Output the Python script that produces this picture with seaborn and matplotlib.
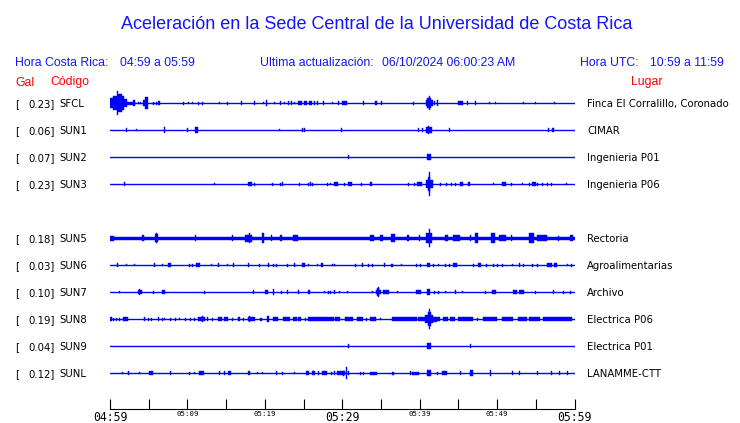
import matplotlib
matplotlib.use("Agg")
import matplotlib.pyplot as plt
import matplotlib.transforms as mtransforms
import seaborn as sns
import pandas as pd

# ---------------- data ----------------
codes = ["SFCL", "SUN1", "SUN2", "SUN3", "SUN5", "SUN6", "SUN7", "SUN8", "SUN9", "SUNL"]
slots = [0, 1, 2, 3, 5, 6, 7, 8, 9, 10]          # SUN4 slot left empty
peak_gal = ["0.23", "0.06", "0.07", "0.23", "0.18", "0.03", "0.10", "0.19", "0.04", "0.12"]
places = ["Finca El Corralillo, Coronado", "CIMAR", "Ingenieria P01", "Ingenieria P06",
          "Rectoria", "Agroalimentarias", "Archivo", "Electrica P06", "Electrica P01", "LANAMME-CTT"]

tick_minutes = list(range(0, 61, 5))
tick_labels = ["04:59", "", "05:09", "", "05:19", "", "05:29", "", "05:39", "", "05:49", "", "05:59"]

# bursts: (start minute, end minute, half amplitude)
SFCL_ev = [(0, 0.43, 5), (0.43, 0.95, 7), (0.95, 1.08, 12), (1.08, 1.52, 9), (1.52, 1.85, 7),
           (1.85, 2.16, 4), (2.16, 3.23, 1.5), (2.98, 3.23, 3), (3.62, 3.62, 1), (3.88, 3.88, 1),
           (4.27, 4.5, 3), (4.5, 4.91, 6), (5.56, 5.56, 1.5), (5.95, 5.95, 1.5), (6.21, 6.4, 2),
           (9.44, 9.44, 1.5), (10.09, 10.09, 1), (10.6, 10.6, 1), (11.38, 11.38, 1.5), (11.9, 11.9, 1.5),
           (14.09, 14.09, 1), (15.13, 15.13, 1.5), (16.94, 17.07, 2), (18.62, 18.75, 2), (19.78, 19.78, 1),
           (20.17, 20.17, 3), (21.2, 21.2, 1), (21.98, 22.11, 2), (22.5, 22.5, 1), (23.0, 23.0, 2),
           (23.4, 23.4, 2), (23.79, 23.79, 1), (24.31, 24.83, 2), (25.09, 25.5, 2), (25.73, 26.12, 2),
           (26.38, 26.38, 2), (26.77, 26.77, 2), (27.54, 27.54, 2), (28.71, 28.71, 1), (29.48, 29.48, 2),
           (30.0, 30.65, 2), (32.72, 32.72, 2), (34.27, 34.53, 2), (35.04, 35.04, 2), (39.18, 39.18, 1.5),
           (40.86, 41.77, 3), (41.0, 41.5, 5), (41.25, 41.25, 7), (41.9, 41.9, 2), (42.28, 42.28, 3),
           (45.0, 45.65, 2), (46.16, 46.16, 2), (47.2, 47.2, 2), (49.01, 49.01, 1), (49.78, 49.78, 1),
           (53.41, 53.41, 1), (54.96, 54.96, 1), (57.41, 57.41, 1)]
SUN1_ev = [(2.07, 2.07, 2), (3.36, 3.36, 1), (6.98, 7.11, 3), (9.96, 10.1, 2), (10.99, 11.38, 3),
           (21.85, 21.85, 1), (24.83, 24.83, 2), (25.09, 25.09, 2), (29.87, 29.87, 2), (39.83, 39.83, 2),
           (40.34, 40.34, 2), (40.86, 41.64, 3), (41.12, 41.25, 4), (43.84, 43.97, 2), (56.64, 56.64, 2),
           (57.03, 57.41, 2)]
SUN2_ev = [(30.78, 30.78, 2), (40.99, 41.51, 3)]
SUN3_ev = [(1.81, 1.81, 2), (13.45, 13.45, 1), (17.84, 18.36, 2), (18.62, 18.62, 1.5), (20.95, 20.95, 1.5),
           (21.98, 21.98, 1.5), (22.24, 22.24, 2), (24.44, 24.44, 1.5), (25.6, 25.6, 1.5), (25.86, 25.86, 2),
           (26.12, 26.12, 1.5), (28.06, 28.06, 1.5), (28.45, 28.45, 1), (28.97, 29.48, 2), (30.26, 30.26, 1.5),
           (30.78, 31.29, 2), (32.46, 32.46, 1.5), (33.62, 33.88, 2), (38.53, 38.53, 1.5), (39.31, 39.31, 1.5),
           (39.7, 40.34, 2), (40.86, 41.77, 4), (41.12, 41.38, 7), (41.25, 41.25, 12), (42.67, 42.67, 1.5),
           (43.45, 43.45, 1.5), (44.09, 44.09, 1.5), (44.61, 44.61, 1.5), (45.26, 45.65, 2), (46.29, 46.55, 2),
           (49.53, 49.53, 1), (50.69, 51.21, 2), (51.85, 51.85, 1.5), (53.28, 53.28, 1), (54.18, 54.18, 1.5),
           (54.57, 55.09, 2), (55.22, 55.22, 1.5), (55.86, 55.86, 1.5), (56.51, 56.51, 1.5), (56.9, 56.9, 1.5),
           (58.84, 58.84, 1)]
SUN5_ev = [(0, 60, 1.8), (0, 0.5, 2.2), (4.14, 4.4, 3), (5.82, 6.21, 4), (5.95, 6.08, 5),
           (10.99, 11.12, 3), (15.78, 15.91, 3), (17.46, 18.36, 3.5), (17.97, 18.1, 5), (19.66, 19.91, 5),
           (20.82, 20.82, 3), (21.98, 22.2, 3), (23.66, 24.3, 3), (33.62, 34.14, 3), (34.91, 35.3, 3),
           (36.34, 36.85, 4), (38.41, 38.66, 3), (39.96, 39.96, 3), (40.86, 41.64, 5), (41.25, 41.38, 9),
           (43.32, 43.71, 3), (44.35, 45.26, 3), (46.55, 46.55, 3), (47.2, 47.59, 5), (49.27, 49.78, 5),
           (50.3, 51.21, 3), (51.85, 51.85, 3), (54.18, 54.83, 5), (55.22, 56.51, 3), (57.93, 57.93, 2.5),
           (59.48, 59.87, 3)]
SUN6_ev = [(0.91, 1.03, 2), (2.07, 2.07, 1), (3.1, 3.1, 1), (5.69, 5.69, 2), (6.72, 6.72, 1), (7.5, 7.89, 2),
           (10.22, 10.22, 1.5), (10.6, 10.6, 1.5), (11.12, 11.64, 2), (13.06, 13.06, 1), (13.97, 13.97, 2),
           (15.13, 15.13, 1), (15.91, 15.91, 2), (17.84, 17.97, 2), (19.27, 19.27, 1.5), (20.43, 20.56, 2),
           (21.08, 21.08, 1.5), (21.47, 21.47, 1.5), (22.89, 22.89, 1.5), (23.79, 23.79, 2), (24.83, 25.22, 2),
           (25.6, 25.6, 1), (26.77, 26.77, 1), (27.28, 27.54, 2), (28.71, 28.71, 1), (28.97, 28.97, 1),
           (31.68, 31.68, 1.5), (32.59, 32.72, 2), (33.36, 33.36, 1.5), (33.88, 33.88, 1.5), (35.43, 35.43, 2),
           (36.34, 36.34, 1.5), (36.47, 36.47, 1.5), (37.63, 37.63, 1), (39.57, 39.7, 1.5), (40.09, 40.22, 1.5),
           (40.99, 41.38, 2), (41.77, 41.77, 1.5), (42.41, 42.41, 1), (43.32, 43.32, 1.5), (43.84, 43.84, 1.5),
           (44.35, 44.87, 2), (46.94, 46.94, 1.5), (47.59, 47.97, 2), (48.62, 48.62, 1.5), (49.53, 49.53, 1.5),
           (50.04, 50.04, 1.5), (50.69, 50.69, 1.5), (51.98, 51.98, 1), (52.89, 52.89, 2), (53.41, 53.41, 1.5),
           (54.57, 54.57, 1.5), (55.22, 55.22, 1.5), (56.51, 57.03, 2), (57.41, 57.8, 2), (58.97, 58.97, 1),
           (59.61, 59.61, 1.5)]
SUN7_ev = [(1.16, 1.16, 1), (3.62, 4.14, 2), (3.75, 3.88, 3), (5.56, 5.56, 1.5), (6.72, 7.11, 2),
           (12.16, 12.16, 1.5), (18.49, 18.49, 2), (20.04, 20.43, 2), (21.08, 21.08, 3), (22.11, 22.11, 1.5),
           (22.89, 22.89, 2), (24.31, 24.31, 2), (25.6, 25.86, 2), (27.67, 27.67, 1), (28.19, 28.19, 1.5),
           (28.45, 28.45, 1.5), (28.97, 28.97, 2), (29.61, 29.61, 1), (30.65, 30.65, 1), (33.88, 33.88, 1),
           (34.4, 35.04, 2), (34.53, 34.79, 4), (34.66, 34.66, 5), (35.3, 36.08, 2), (37.11, 37.11, 1),
           (39.57, 40.22, 2), (40.99, 41.38, 3), (41.9, 41.9, 1.5), (42.41, 42.41, 1.5), (43.32, 43.32, 1),
           (44.61, 44.61, 2), (45.52, 45.52, 1), (48.49, 48.49, 1.5), (49.4, 49.91, 2), (52.11, 52.63, 2),
           (52.89, 53.54, 2), (54.96, 54.96, 1.5), (57.16, 57.16, 2), (58.45, 58.45, 1.5), (59.48, 59.48, 1.5)]
SUN8_ev = [(0, 0.26, 2), (0.39, 0.39, 1.5), (0.78, 0.78, 1.5), (1.16, 1.16, 1.5), (1.68, 2.33, 2),
           (4.4, 4.4, 2), (4.91, 4.91, 1.5), (5.3, 5.3, 1.5), (6.21, 6.21, 2), (6.72, 6.72, 1.5),
           (6.98, 6.98, 1), (7.76, 7.76, 1.5), (8.41, 8.41, 1.5), (8.92, 8.92, 1), (9.7, 9.7, 1.5),
           (10.35, 10.35, 1.5), (10.86, 10.86, 1.5), (11.38, 12.28, 2), (11.9, 11.9, 3), (12.5, 12.6, 2),
           (13.2, 13.3, 1.5), (13.97, 14.48, 2), (14.74, 15.26, 2), (15.78, 15.91, 1.5), (16.55, 16.81, 2),
           (17.2, 17.2, 1.5), (17.84, 18.75, 2), (17.97, 17.97, 3), (19.4, 19.66, 1.5), (20.3, 20.56, 3),
           (21.08, 21.72, 2), (22.37, 23.28, 2), (23.66, 24.18, 2), (24.31, 24.7, 2), (25.2, 25.2, 1.5),
           (25.6, 28.97, 2), (29.09, 29.74, 2), (30.39, 31.42, 2), (31.94, 32.72, 2), (33.1, 33.1, 1.5),
           (33.62, 34.4, 2), (34.91, 34.91, 1), (36.47, 39.7, 2), (39.83, 40.73, 2), (40.73, 41.77, 4),
           (41.12, 41.51, 7), (41.25, 41.25, 10), (41.77, 42.28, 2.5), (42.28, 42.67, 2), (43.06, 43.71, 2),
           (43.97, 44.61, 2), (45.0, 46.94, 2), (47.46, 47.46, 1.5), (48.23, 50.04, 2), (50.69, 52.11, 2),
           (52.76, 53.92, 2), (54.18, 55.6, 2), (55.99, 59.74, 2)]
SUN9_ev = [(30.78, 30.78, 2), (40.99, 41.51, 3), (46.55, 46.55, 2)]
SUNL_ev = [(1.55, 1.55, 1), (2.33, 2.33, 2), (3.75, 3.75, 1), (5.04, 5.56, 2), (7.76, 7.76, 2),
           (10.22, 10.22, 1.5), (10.86, 10.86, 1), (11.51, 12.16, 2), (14.09, 14.09, 2), (14.74, 14.74, 2),
           (15.26, 15.65, 2), (17.84, 18.1, 2), (19.01, 19.01, 1), (19.66, 19.66, 1), (21.47, 21.47, 2),
           (22.24, 22.24, 1.5), (23.79, 23.79, 1), (25.34, 25.73, 2), (26.12, 26.51, 2), (26.9, 26.9, 2),
           (27.41, 28.06, 2), (28.58, 28.58, 1.5), (28.97, 28.97, 2), (29.35, 30.0, 2), (30.13, 30.26, 2.5),
           (30.0, 30.39, 2), (30.52, 30.65, 6), (30.78, 30.78, 2), (32.33, 32.33, 1.5), (32.72, 32.72, 1.5),
           (33.62, 34.53, 1.5), (36.47, 36.72, 1.5), (38.79, 38.79, 2), (39.05, 39.96, 1.5), (40.99, 41.51, 3),
           (42.28, 42.28, 1.5), (42.93, 43.58, 2), (45.26, 45.26, 2), (46.55, 46.94, 3), (49.14, 49.14, 3),
           (51.98, 51.98, 2), (52.89, 52.89, 2), (55.22, 55.22, 2), (56.9, 56.9, 2), (58.06, 58.06, 2),
           (58.97, 58.97, 2)]
events = [SFCL_ev, SUN1_ev, SUN2_ev, SUN3_ev, SUN5_ev, SUN6_ev, SUN7_ev, SUN8_ev, SUN9_ev, SUNL_ev]

# ---------------- style ----------------
sns.set_theme(style="white")
plt.rcParams["font.family"] = ["DejaVu Sans"]

BLUE = "#0000ff"
TXTBLUE = "#1414ff"
RED = "#ff0000"
W, H = 740, 423
fig = plt.figure(figsize=(W / 100, H / 100), dpi=100)
fig.patch.set_facecolor("white")

ax = fig.add_axes([110 / W, 1 - 409 / H, 464.5 / W, 319 / H])
ax.set_facecolor("white")
SP = 27.0  # pixels between traces (amplitudes are in the same units)

# baselines
rows = []
for code, slot in zip(codes, slots):
    rows.append({"station": code, "t": 0.0, "y": slot})
    rows.append({"station": code, "t": 60.0, "y": slot})
base = pd.DataFrame(rows)
sns.lineplot(data=base, x="t", y="y", units="station", estimator=None,
             color=BLUE, lw=1.0, ax=ax, legend=False)

# bursts
MINW = 60 / 464.5
for slot, evs in zip(slots, events):
    for t0, t1, a in evs:
        w = max(t1 - t0, MINW)
        h = a / SP
        ax.bar(t0, 2 * h, width=w, bottom=slot - h, align="edge",
               color=BLUE, edgecolor=BLUE, linewidth=0.3)

ax.set_xlim(0, 60)
ax.set_ylim((409 - 103.3) / SP, -(103.3 - 90) / SP)
for s in ["top", "left", "right"]:
    ax.spines[s].set_visible(False)
ax.spines["bottom"].set_color("black")
ax.spines["bottom"].set_linewidth(0.8)
ax.set_yticks([])
ax.set_xlabel("")
ax.set_ylabel("")
ax.set_xticks(tick_minutes)
ax.set_xticklabels(tick_labels)
ax.tick_params(axis="x", bottom=True, direction="in", length=7.2, width=0.8,
               color="black", pad=1.5)
for i, lab in enumerate(ax.get_xticklabels()):
    big = tick_minutes[i] % 30 == 0
    lab.set_fontfamily("DejaVu Sans Mono")
    lab.set_fontsize(8.3 if big else 5.3)
    lab.set_color("black")

# station labels
trans_left = mtransforms.blended_transform_factory(fig.transFigure, ax.transData)
off = 3.7 / SP
for code, slot, g, place in zip(codes, slots, peak_gal, places):
    kw = dict(transform=trans_left, fontsize=7.3, color="black", va="baseline",
              family="DejaVu Sans")
    ax.text(15 / W, slot + off, "[", **kw)
    ax.text(28 / W, slot + off, g + "]", **kw)
    ax.text(59 / W, slot + off, code, **kw)
    ax.text(587 / W, slot + off, place, **kw)

# header texts
def ftext(x, ybase, s, color, size):
    fig.text(x / W, 1 - ybase / H, s, color=color, fontsize=size,
             family="Liberation Sans", va="baseline", ha="left")

fig.text(377 / W, 1 - 29.3 / H, "Aceleración en la Sede Central de la Universidad de Costa Rica",
         color=TXTBLUE, fontsize=13.0, family="Liberation Sans", va="baseline", ha="center")
ftext(15, 65.5, "Hora Costa Rica:", TXTBLUE, 8.8)
ftext(120.5, 65.5, "04:59 a 05:59", TXTBLUE, 8.8)
ftext(260, 65.5, "Ultima actualización:", TXTBLUE, 8.8)
ftext(382, 65.5, "06/10/2024 06:00:23 AM", TXTBLUE, 8.8)
ftext(580, 65.5, "Hora UTC:", TXTBLUE, 8.8)
ftext(650, 65.5, "10:59 a 11:59", TXTBLUE, 8.8)
ftext(15, 85.5, "Gal", RED, 8.8)
ftext(50, 85.5, "Código", RED, 8.8)
ftext(631, 85.5, "Lugar", RED, 8.8)

fig.savefig("out.png", dpi=100, facecolor="white")
